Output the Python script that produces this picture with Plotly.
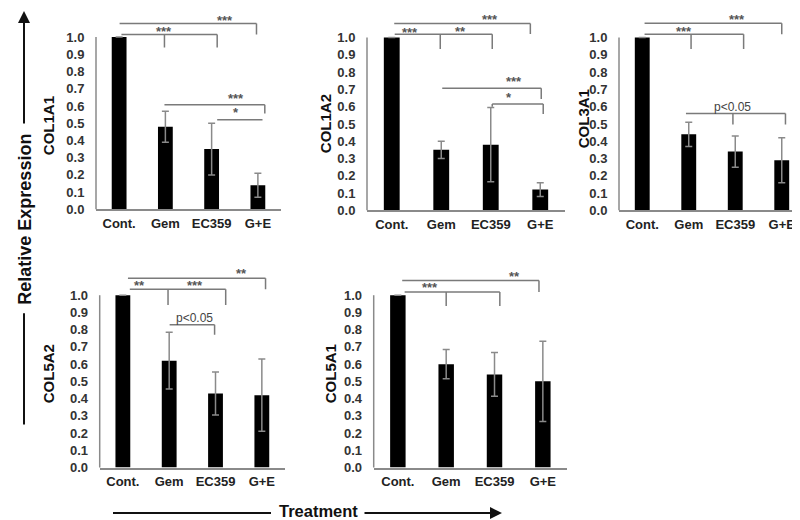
import plotly.graph_objects as go

# ---------------- data ----------------
categories = ["Cont.", "Gem", "EC359", "G+E"]
genes = ["COL1A1", "COL1A2", "COL3A1", "COL5A2", "COL5A1"]

col1a1_mean = [1.0, 0.48, 0.35, 0.14]
col1a1_err = [0.0, 0.09, 0.15, 0.07]
col1a2_mean = [1.0, 0.35, 0.38, 0.12]
col1a2_err = [0.0, 0.05, 0.215, 0.04]
col3a1_mean = [1.0, 0.44, 0.34, 0.29]
col3a1_err = [0.0, 0.07, 0.09, 0.13]
col5a2_mean = [1.0, 0.62, 0.43, 0.42]
col5a2_err = [0.0, 0.165, 0.125, 0.21]
col5a1_mean = [1.0, 0.60, 0.54, 0.50]
col5a1_err = [0.0, 0.085, 0.127, 0.233]

ytick_vals = [0.0, 0.1, 0.2, 0.3, 0.4, 0.5, 0.6, 0.7, 0.8, 0.9, 1.0]
ytick_text = ["0.0", "0.1", "0.2", "0.3", "0.4", "0.5", "0.6", "0.7", "0.8", "0.9", "1.0"]

means = [col1a1_mean, col1a2_mean, col3a1_mean, col5a2_mean, col5a1_mean]
errs = [col1a1_err, col1a2_err, col3a1_err, col5a2_err, col5a1_err]

# significance brackets: (x_start, x_end, y, [(drop_x, drop_bottom)], [(text_x, text_y, text)])
brackets = [
    [
        (0.05, 2.12, 1.015, [(0.98, 0.94), (2.12, 0.94)], [(0.98, 1.035, "***")]),
        (0.01, 2.97, 1.078, [(2.97, 1.015)], [(2.28, 1.098, "***")]),
        (0.98, 3.15, 0.607, [(3.15, 0.556)], [(2.53, 0.642, "***")]),
        (2.12, 3.10, 0.52, [], [(2.53, 0.562, "*")]),
    ],
    [
        (0.06, 2.03, 1.019, [(0.98, 0.933), (2.03, 0.933)], [(0.36, 1.032, "***"), (1.38, 1.035, "**")]),
        (0.05, 2.80, 1.081, [(2.80, 1.021)], [(1.99, 1.102, "***")]),
        (1.02, 3.02, 0.706, [(3.02, 0.645)], [(2.47, 0.745, "***")]),
        (2.03, 3.06, 0.615, [(2.03, 0.6), (3.06, 0.558)], [(2.37, 0.655, "*")]),
    ],
    [
        (0.05, 2.18, 1.019, [(1.05, 0.934), (2.18, 0.934)], [(0.89, 1.033, "***")]),
        (0.05, 3.00, 1.082, [(3.00, 1.019)], [(2.04, 1.103, "***")]),
        (0.94, 3.08, 0.56, [(1.95, 0.497), (3.08, 0.497)], [(1.95, 0.598, "p<0.05")]),
    ],
    [
        (0.15, 2.22, 1.034, [(0.975, 0.943), (2.22, 0.943)], [(0.36, 1.055, "**"), (1.55, 1.055, "***")]),
        (0.11, 3.08, 1.099, [(3.08, 1.034)], [(2.57, 1.125, "**")]),
        (1.01, 1.98, 0.829, [(1.98, 0.771)], [(1.55, 0.867, "p<0.05")]),
    ],
    [
        (0.14, 2.11, 1.019, [(1.0, 0.937), (2.11, 0.937)], [(0.66, 1.043, "***")]),
        (0.09, 2.92, 1.086, [(2.92, 1.019)], [(2.42, 1.11, "**")]),
    ],
]

# ---------------- layout geometry (pixels) ----------------
W, H = 800, 520
YMAX = 1.16
# left, right, y of 0.0, y of 1.0, label x, label y
panels = [
    (88, 273, 204.5, 29.5, 40, 120),
    (359, 557, 205.5, 30.0, 317, 118),
    (611, 797, 205.5, 30.0, 575, 113),
    (91.7, 277, 466.7, 291.7, 40, 372),
    (365.7, 559, 466.7, 291.7, 322, 372),
]

FONT = "Liberation Sans, Arial, sans-serif"
GRAY = "#8a8a8a"

fig = go.Figure()
layout = dict(
    width=W, height=H, margin=dict(l=0, r=0, t=0, b=0),
    paper_bgcolor="white", plot_bgcolor="white", showlegend=False,
    font=dict(family=FONT, color="#222"),
)
shapes = []
annotations = []

for i, (left, right, y0, y1, lx, ly) in enumerate(panels):
    n = "" if i == 0 else str(i + 1)
    xa, ya = "x" + n, "y" + n
    top_px = y0 - YMAX * (y0 - y1)
    fig.add_trace(go.Bar(
        x=categories, y=means[i], xaxis=xa, yaxis=ya, width=0.32,
        marker=dict(color="black", line=dict(width=0)),
        error_y=dict(type="data", array=errs[i], color=GRAY, thickness=1.5, width=3.5),
    ))
    layout["xaxis" + n] = dict(
        domain=[left / W, right / W], anchor=ya, type="category",
        range=[-0.5, 3.5], showline=True, linecolor=GRAY, linewidth=1.5,
        showgrid=False, zeroline=False, ticks="outside", ticklen=1,
        tickcolor="rgba(0,0,0,0)",
        tickfont=dict(family=FONT, size=13, color="#222", weight="bold"),
        fixedrange=True,
    )
    layout["yaxis" + n] = dict(
        domain=[1 - y0 / H, 1 - top_px / H], anchor=xa, range=[0, YMAX],
        showline=False, showgrid=False, zeroline=False,
        tickvals=ytick_vals, ticktext=ytick_text,
        ticks="outside", ticklen=8, tickcolor="rgba(0,0,0,0)",
        tickfont=dict(family=FONT, size=13, color="#333", weight="bold"),
        fixedrange=True,
    )
    # y axis line from 0 to 1.0
    shapes.append(dict(type="line", xref=xa + " domain", yref=ya + " domain",
                       x0=0, x1=0, y0=0, y1=1.0 / YMAX,
                       line=dict(color=GRAY, width=1.5)))
    # gene label
    annotations.append(dict(text=genes[i], x=lx / W, y=1 - ly / H, xref="paper", yref="paper",
                            xanchor="center", yanchor="middle",
                            showarrow=False, textangle=-90,
                            font=dict(family=FONT, size=15, color="#111", weight="bold")))
    for (bx0, bx1, by, drops, texts) in brackets[i]:
        shapes.append(dict(type="line", xref=xa, yref=ya, x0=bx0, x1=bx1, y0=by, y1=by,
                           line=dict(color="#7a7a7a", width=1.5)))
        for (dx, dy) in drops:
            shapes.append(dict(type="line", xref=xa, yref=ya, x0=dx, x1=dx, y0=by, y1=dy,
                               line=dict(color="#7a7a7a", width=1.5)))
        for (tx, ty, tt) in texts:
            star = tt.startswith("*")
            annotations.append(dict(text=tt, x=tx, y=ty, xref=xa, yref=ya, showarrow=False,
                                    xanchor="center", yanchor="middle",
                                    font=dict(family=FONT, size=13 if star else 12,
                                              color="#555" if star else "#444",
                                              weight="bold" if star else "normal")))

# Relative Expression axis label with arrow
annotations.append(dict(text="Relative Expression", x=17 / W, y=1 - 215 / H, xref="paper", yref="paper",
                        xanchor="center", yanchor="middle",
                        showarrow=False, textangle=-90,
                        font=dict(family=FONT, size=18, color="#111", weight="bold")))
annotations.append(dict(text="", x=16 / W, y=1 - 3 / H, ax=0, ay=114,
                        xref="paper", yref="paper", axref="pixel", ayref="pixel",
                        showarrow=True, arrowhead=2, arrowsize=1.2, arrowwidth=2, arrowcolor="#111"))
shapes.append(dict(type="line", xref="paper", yref="paper", x0=16 / W, x1=16 / W,
                   y0=1 - 310 / H, y1=1 - 423 / H, line=dict(color="#111", width=2)))

# Treatment label with arrow
annotations.append(dict(text="Treatment", x=310 / W, y=1 - 511 / H, xref="paper", yref="paper",
                        xanchor="center", yanchor="middle",
                        showarrow=False,
                        font=dict(family=FONT, size=16.5, color="#111", weight="bold")))
shapes.append(dict(type="line", xref="paper", yref="paper", x0=105 / W, x1=263 / W,
                   y0=1 - 513 / H, y1=1 - 513 / H, line=dict(color="#111", width=2)))
annotations.append(dict(text="", x=494 / W, y=1 - 513 / H, ax=-139, ay=0,
                        xref="paper", yref="paper", axref="pixel", ayref="pixel",
                        showarrow=True, arrowhead=2, arrowsize=1.2, arrowwidth=2, arrowcolor="#111"))

layout["shapes"] = shapes
layout["annotations"] = annotations
fig.update_layout(**layout)
fig.write_html("out.html")
